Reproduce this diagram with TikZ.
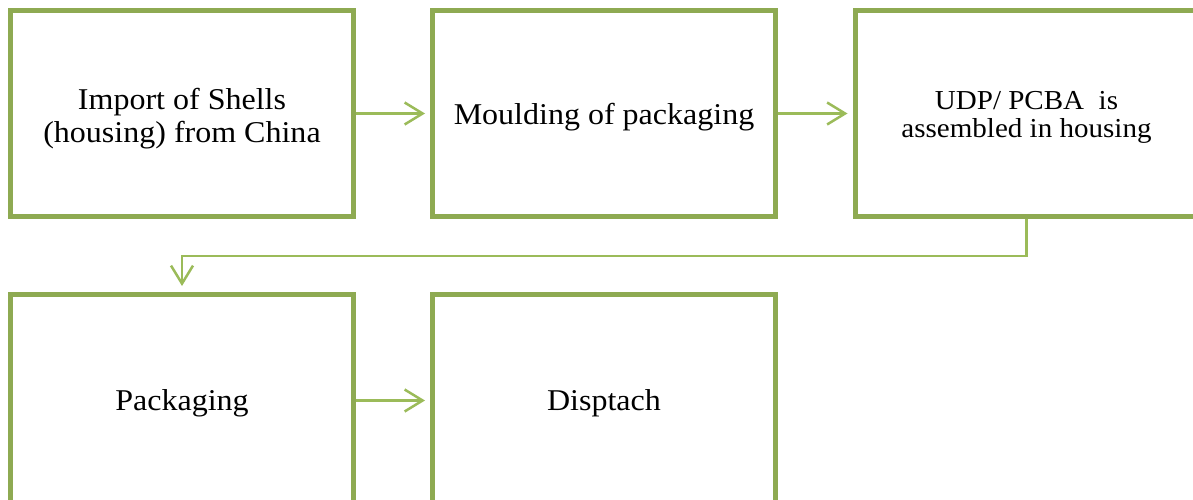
\documentclass[tikz,border=0pt]{standalone}
\usepackage{fontspec}
\setmainfont{Liberation Serif}[FakeStretch=1.06]
\usetikzlibrary{arrows.meta}
\definecolor{boxgreen}{HTML}{8EAA52}
\definecolor{linegreen}{HTML}{9BBB59}
\begin{document}
\begin{tikzpicture}[x=1pt,y=-1pt,
  stagebox/.style={draw=boxgreen,line width=5pt,minimum width=343pt,minimum height=206pt,inner sep=0pt},
  lowbox/.style={stagebox,minimum height=212pt},
  boxtext/.style={inner sep=0pt,align=center,font=\fontsize{30.2}{32.5}\selectfont},
  smalltext/.style={boxtext,font=\fontsize{27.4}{28.5}\selectfont},
  flow/.style={draw=linegreen,line width=2.5pt,-{Straight Barb[length=18pt,width=22pt,line width=2.5pt]}}]
\useasboundingbox (0,0) rectangle (1193,500);
\node[stagebox] (b1) at (182,113.5) {};
\node[stagebox] (b2) at (604,113.5) {};
\node[stagebox] (b3) at (1026.5,113.5) {};
\node[lowbox] (b4) at (182,400.5) {};
\node[lowbox] (b5) at (604,400.5) {};
\node[boxtext] (l1) at ([yshift=-5pt]b1.center) {Import of Shells\\(housing) from China};
\node[boxtext] (l2) at ([yshift=-4pt]b2.center) {Moulding of packaging};
\node[smalltext] (l3) at ([yshift=-4pt]b3.center) {UDP/ PCBA\ \ is\\assembled in housing};
\node[boxtext] (l4) at ([yshift=-2.5pt]b4.center) {Packaging};
\node[boxtext] (l5) at ([yshift=-2.5pt]b5.center) {Disptach};
\coordinate (t1) at (1026.5,256);
\coordinate (t2) at (182,256);
\draw[flow,shorten >=5pt] (b1.east) -- (b2.west);
\draw[flow,shorten >=5pt] (b2.east) -- (b3.west);
\draw[flow,shorten >=6pt] (b3.south) -- (t1) -- (t2) -- (b4.north);
\draw[flow,shorten >=5pt] (b4.east) -- (b5.west);
\end{tikzpicture}
\end{document}
